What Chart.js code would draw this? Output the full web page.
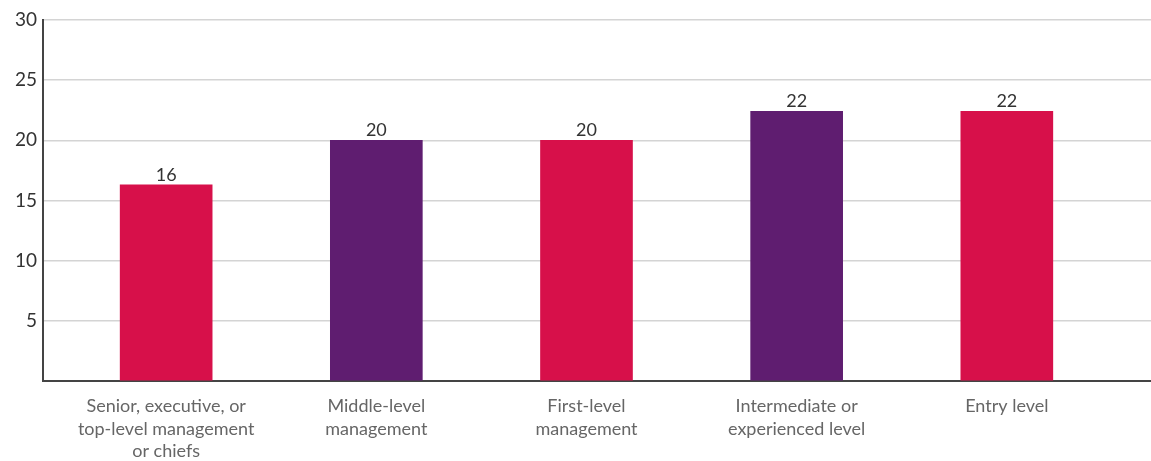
<!DOCTYPE html>
<html>
<head>
<meta charset="utf-8">
<script src="https://cdn.jsdelivr.net/npm/chart.js@4"></script>
<style>
  html, body { margin: 0; padding: 0; background: #fff; }
  #wrap { width: 1151px; height: 461px; }
</style>
</head>
<body>
<div id="wrap"><canvas id="levelChart"></canvas></div>
<script>
var categories = [
  ["Senior, executive, or", "top-level management", "or chiefs"],
  ["Middle-level", "management"],
  ["First-level", "management"],
  ["Intermediate or", "experienced level"],
  ["Entry level"]
];
var values = [16.3, 20, 20, 22.4, 22.4];
var valueLabels = ["16", "20", "20", "22", "22"];
var yTicks = [5, 10, 15, 20, 25, 30];

var RED = "#d7104a";
var PURPLE = "#5f1d70";
var barColors = [RED, PURPLE, RED, PURPLE, RED];

var points = values.map(function (v, i) { return { x: i, y: v }; });

// value labels above each bar
var topLabels = {
  id: "topLabels",
  afterDatasetsDraw: function (chart) {
    var c = chart.ctx;
    var meta = chart.getDatasetMeta(0);
    c.save();
    c.font = "18px Lato";
    c.fillStyle = "#333";
    c.textAlign = "center";
    c.textBaseline = "bottom";
    meta.data.forEach(function (bar, i) {
      c.fillText(valueLabels[i], bar.x, bar.y - 1);
    });
    c.restore();
  }
};

var ctx = document.getElementById("levelChart");
new Chart(ctx, {
  type: "bar",
  data: {
    datasets: [{
      data: points,
      backgroundColor: barColors,
      hoverBackgroundColor: barColors,
      barThickness: 92
    }]
  },
  options: {
    responsive: true,
    maintainAspectRatio: false,
    animation: false,
    layout: { padding: { top: 20, right: 0, left: 0, bottom: 0 } },
    plugins: {
      legend: { display: false },
      tooltip: { enabled: false }
    },
    scales: {
      x: {
        type: "linear",
        offset: false,
        min: -0.586,
        max: 4.686,
        grid: { display: false, drawTicks: false },
        border: { display: true, color: "#444", width: 2 },
        ticks: {
          stepSize: 1,
          includeBounds: false,
          autoSkip: false,
          maxRotation: 0,
          padding: 14,
          color: "#666",
          font: { family: "Lato", size: 18, lineHeight: 1.25 },
          callback: function (value) {
            if (Number.isInteger(value) && value >= 0 && value < categories.length) {
              return categories[value];
            }
            return "";
          }
        },
        afterFit: function (scale) { scale.height = 80; }
      },
      y: {
        min: 0,
        max: 30,
        afterBuildTicks: function (scale) {
          scale.ticks = [0].concat(yTicks).map(function (v) { return { value: v }; });
        },
        grid: { color: "#d4d4d4", lineWidth: 1.5, drawTicks: false },
        border: { display: true, color: "#444", width: 2 },
        ticks: {
          padding: 6,
          color: "#333",
          font: { family: "Lato", size: 19 },
          callback: function (value) { return value === 0 ? "" : value; }
        },
        afterFit: function (scale) { scale.width = 43; }
      }
    }
  },
  plugins: [topLabels]
});
</script>
</body>
</html>
